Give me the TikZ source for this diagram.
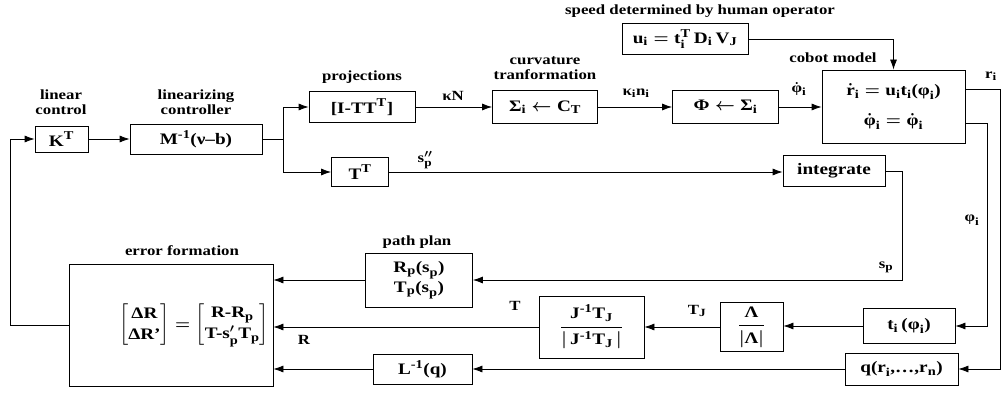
\documentclass[tikz,border=0pt]{standalone}
\usepackage{amsmath}
\usepackage{fontspec}
\setmainfont{Liberation Serif}[FakeStretch=1.2]
\DeclareMathSizes{16}{16}{12}{10}
\DeclareMathSizes{14}{14}{11}{9}
\usetikzlibrary{arrows.meta}
\newcommand{\mtx}[1]{\text{#1}}
\tikzset{
  blk/.style={draw, line width=0.8pt, inner sep=1pt, font=\fontsize{16}{21}\selectfont\bfseries\boldmath},
  lbl/.style={inner sep=0pt, align=center, font=\fontsize{14}{15}\selectfont\bfseries\boldmath},
  sig/.style={line width=0.8pt, -{Latex[length=10pt,width=7pt]}},
  wire/.style={line width=0.8pt}
}
\begin{document}
\begin{tikzpicture}[x=1pt, y=-1pt]
            \useasboundingbox (0,0) rectangle (1003,398);

            % blocks of the forward path
            \node[blk, minimum width=53pt, minimum height=26pt] (kt) at (61.5,139) {$\mtx{K}^{\mtx{T}}$};
            \node[blk, minimum width=132pt, minimum height=30pt] (minv) at (196,139) {$\mtx{M}^{\mtx{-1}}\mtx{(ν–b)}$};
            \node[blk, minimum width=106pt, minimum height=31pt] (proj) at (362,107) {$\mtx{[I-TT}^{\mtx{T}}\mtx{]}$};
            \node[blk, minimum width=105pt, minimum height=33pt] (curv) at (545,107) {$\mtx{Σ}_{\mtx{i}}\leftarrow\mtx{C}_{\mtx{T}}$};
            \node[blk, minimum width=106pt, minimum height=33pt] (phisig) at (725.5,107) {$\mtx{Φ}\leftarrow\mtx{Σ}_{\mtx{i}}$};
            \node[blk, minimum width=143pt, minimum height=73pt, align=center, font=\fontsize{16}{30}\selectfont\bfseries\boldmath] (cobot) at (893.5,106.5)
                {$\dot{\mtx{r}}_{\mtx{i}}=\mtx{u}_{\mtx{i}}\mtx{t}_{\mtx{i}}\mtx{(φ}_{\mtx{i}}\mtx{)}$\\
                 $\dot{\mtx{φ}}_{\mtx{i}}=\dot{\mtx{φ}}_{\mtx{i}}$};
            \node[blk, minimum width=126pt, minimum height=31pt] (speed) at (685,39) {$\mtx{u}_{\mtx{i}}=\mtx{t}_{\mtx{i}}^{\mtx{T}}\,\mtx{D}_{\mtx{i}}\,\mtx{V}_{\mtx{J}}$};
            \node[blk, minimum width=57pt, minimum height=29pt] (tt) at (360,172) {$\mtx{T}^{\mtx{T}}$};
            \node[blk, minimum width=102pt, minimum height=31pt] (integ) at (834,171) {integrate};

            % blocks of the return path
            \node[blk, minimum width=204pt, minimum height=122pt] (err) at (171,325)
                {\raisebox{-7pt}{\hspace*{46pt}$\begin{bmatrix}\mtx{ΔR}\\\mtx{ΔR'}\end{bmatrix}=\begin{bmatrix}\mtx{R-R}_{\mtx{p}}\\\mtx{T-s}'_{\mtx{p}}\mtx{T}_{\mtx{p}}\end{bmatrix}$}};
            \node[blk, minimum width=107pt, minimum height=54pt, align=center, font=\fontsize{16}{20}\selectfont\bfseries\boldmath] (plan) at (419,280)
                {$\mtx{R}_{\mtx{p}}\mtx{(s}_{\mtx{p}}\mtx{)}$\\$\mtx{T}_{\mtx{p}}\mtx{(s}_{\mtx{p}}\mtx{)}$};
            \node[blk, minimum width=105pt, minimum height=62pt] (jac) at (591.5,327)
                {$\dfrac{\mtx{J}^{\mtx{-1}}\mtx{T}_{\mtx{J}}}{|\,\mtx{J}^{\mtx{-1}}\mtx{T}_{\mtx{J}}\,|}$};
            \node[blk, minimum width=63pt, minimum height=49pt] (lam) at (751.5,327) {$\dfrac{\mtx{Λ}}{|\mtx{Λ}|}$};
            \node[blk, minimum width=92pt, minimum height=35pt] (tphi) at (909,326) {$\mtx{t}_{\mtx{i}}\,\mtx{(φ}_{\mtx{i}}\mtx{)}$};
            \node[blk, minimum width=113pt, minimum height=32pt] (qbox) at (901.5,369) {$\mtx{q(r}_{\mtx{i}}\mtx{,\dots,r}_{\mtx{n}}\mtx{)}$};
            \node[blk, minimum width=99pt, minimum height=30pt] (linv) at (422.5,369) {$\mtx{L}^{\mtx{-1}}\mtx{(q)}$};

            % titles
            \node[lbl] (tlin) at (61,102) {linear\\control};
            \node[lbl] (tmin) at (196,102) {linearizing\\controller};
            \node[lbl] (tproj) at (362,77) {projections};
            \node[lbl] (tcurv) at (545,68) {curvature\\tranformation};
            \node[lbl] (tspeed) at (700,11) {speed determined by human operator};
            \node[lbl] (tcobot) at (833,58) {cobot model};
            \node[lbl] (terr) at (182,251) {error formation};
            \node[lbl] (tplan) at (417,242) {path plan};

            % signal names
            \node[lbl] (kn) at (453,96) {κN};
            \node[lbl] (kin) at (636,93) {$\mtx{κ}_{\mtx{i}}\mtx{n}_{\mtx{i}}$};
            \node[lbl] (dphi) at (799,89) {$\dot{\mtx{φ}}_{\mtx{i}}$};
            \node[lbl] (spp) at (425,160) {$\mtx{s}^{\prime\prime}_{\mtx{p}}$};
            \node[lbl] (ri) at (991,76) {$\mtx{r}_{\mtx{i}}$};
            \node[lbl] (phi) at (972,220) {$\mtx{φ}_{\mtx{i}}$};
            \node[lbl] (sp) at (886,267) {$\mtx{s}_{\mtx{p}}$};
            \node[lbl] (tsig) at (515,306) {T};
            \node[lbl] (tj) at (697,311) {$\mtx{T}_{\mtx{J}}$};
            \node[lbl] (rsig) at (304,340) {R};

            \coordinate (split) at (283,139);
            \coordinate (fb) at (10,325);

            % forward path
            \draw[sig] (fb) |- (kt.west);
            \draw[wire] (err.west) -- (fb);
            \draw[sig] (kt) -- (minv);
            \draw[wire] (minv.east) -- (split);
            \draw[sig] (split) |- (proj.west);
            \draw[sig] (split) |- (tt.west);
            \foreach \u/\v in {%
                proj/curv,
                curv/phisig,
                phisig/cobot,
                tt/integ%
                }{
                \draw[sig] (\u.east) -- (\u.east -| \v.west);
            }
            \draw[sig] (speed.east) -| (cobot.north);

            % return path
            \draw[sig] ([yshift=17.5pt]cobot.east) -- (1000,89) |- (qbox.east);
            \draw[sig] ([yshift=-16.5pt]cobot.east) -- (987,123) |- (tphi.east);
            \draw[sig] (integ.east) -- (902,171) |- (plan.east);
            \foreach \u/\v in {%
                tphi/lam,
                lam/jac,
                jac/err,
                plan/err,
                qbox/linv,
                linv/err%
                }{
                \draw[sig] (\u.west) -- (\u.west -| \v.east);
            }
        \end{tikzpicture}
\end{document}
